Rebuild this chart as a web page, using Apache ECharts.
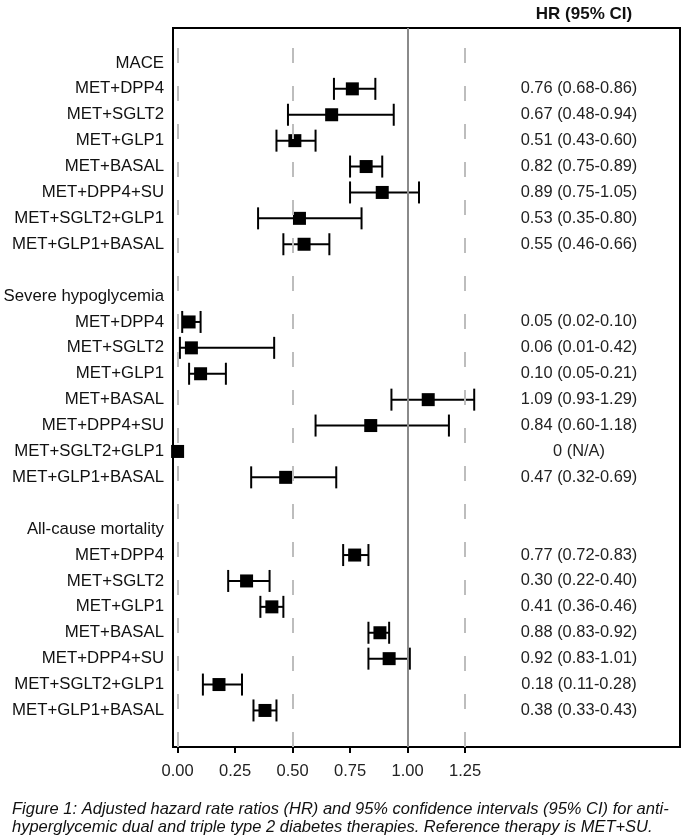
<!DOCTYPE html>
<html>
<head>
<meta charset="utf-8">
<script src="https://cdn.jsdelivr.net/npm/echarts@6/dist/echarts.min.js"></script>
<style>
html,body{margin:0;padding:0;background:#fff;}
#chart{width:685px;height:839px;}
</style>
</head>
<body>
<div id="chart"></div>
<script>
// ---- data ----
const groupNames = ['MACE', 'Severe hypoglycemia', 'All-cause mortality'];
const therapies = ['MET+DPP4', 'MET+SGLT2', 'MET+GLP1', 'MET+BASAL', 'MET+DPP4+SU', 'MET+SGLT2+GLP1', 'MET+GLP1+BASAL'];

const maceHR = [0.76, 0.67, 0.51, 0.82, 0.89, 0.53, 0.55];
const maceLo = [0.68, 0.48, 0.43, 0.75, 0.75, 0.35, 0.46];
const maceHi = [0.86, 0.94, 0.60, 0.89, 1.05, 0.80, 0.66];

const hypoHR = [0.05, 0.06, 0.10, 1.09, 0.84, 0, 0.47];
const hypoLo = [0.02, 0.01, 0.05, 0.93, 0.60, null, 0.32];
const hypoHi = [0.10, 0.42, 0.21, 1.29, 1.18, null, 0.69];

const mortHR = [0.77, 0.30, 0.41, 0.88, 0.92, 0.18, 0.38];
const mortLo = [0.72, 0.22, 0.36, 0.83, 0.83, 0.11, 0.33];
const mortHi = [0.83, 0.40, 0.46, 0.92, 1.01, 0.28, 0.43];

const xTicks = [0, 0.25, 0.5, 0.75, 1.0, 1.25];
const dashedRefs = [0, 0.5, 1.25];
const nullRef = 1.0;

const captionText = 'Figure 1: Adjusted hazard rate ratios (HR) and 95% confidence intervals (95% CI) for anti-\nhyperglycemic dual and triple type 2 diabetes therapies. Reference therapy is MET+SU.';

// ---- build rows ----
const groups = [[maceHR, maceLo, maceHi], [hypoHR, hypoLo, hypoHi], [mortHR, mortLo, mortHi]];
const rowLabels = [];
const rowValues = [];
const points = [];
const bars = [];
groups.forEach((g, gi) => {
  rowLabels.push(groupNames[gi]); rowValues.push('');
  therapies.forEach((t, ti) => {
    const idx = rowLabels.length;
    rowLabels.push(t);
    const hr = g[0][ti], lo = g[1][ti], hi = g[2][ti];
    if (lo == null) {
      rowValues.push(String(hr) + ' (N/A)');
    } else {
      rowValues.push(hr.toFixed(2) + ' (' + lo.toFixed(2) + '-' + hi.toFixed(2) + ')');
      bars.push([lo, hi, idx]);
    }
    points.push([hr, idx]);
  });
  if (gi < groups.length - 1) { rowLabels.push(''); rowValues.push(''); }
});
const cats = rowLabels.map((_, i) => String(i));

const FONT = '"Liberation Sans", Arial, sans-serif';
const XMIN = -0.02, XMAX = 2.185;

const chart = echarts.init(document.getElementById('chart'), null, {renderer: 'canvas'});
chart.setOption({
  animation: false,
  backgroundColor: '#fff',
  title: {
    text: 'HR (95% CI)',
    left: 579, top: 1, textAlign: 'center',
    textStyle: {fontFamily: FONT, fontSize: 17, fontWeight: 'bold', color: '#111'}
  },
  grid: [
    {left: 173, right: 5, top: 28, bottom: 92, show: true, borderColor: '#000', borderWidth: 2, backgroundColor: 'transparent'},
    {left: 173, right: 5, top: 50, height: 673.4}
  ],
  xAxis: [
    {
      gridIndex: 0, type: 'value', min: XMIN, max: XMAX,
      axisLine: {show: true, lineStyle: {color: '#000', width: 2}},
      axisTick: {show: true, length: 6, lineStyle: {color: '#000', width: 2}, customValues: xTicks},
      axisLabel: {show: true, customValues: xTicks, margin: 16, fontFamily: FONT, fontSize: 16.5, color: '#222',
        formatter: v => v.toFixed(2)},
      splitLine: {show: false}
    },
    {gridIndex: 1, type: 'value', min: XMIN, max: XMAX, show: false, splitLine: {show: false}}
  ],
  yAxis: [
    {gridIndex: 0, type: 'value', min: 0, max: 1, show: false, splitLine: {show: false}},
    {
      gridIndex: 1, type: 'category', data: cats, inverse: true, boundaryGap: true,
      axisLine: {show: false}, axisTick: {show: false}, splitLine: {show: false},
      axisLabel: {margin: 9, fontFamily: FONT, fontSize: 16.8, color: '#111', interval: 0,
        formatter: (v, i) => rowLabels[+v]}
    },
    {
      gridIndex: 1, type: 'category', data: cats, inverse: true, boundaryGap: true, position: 'right',
      axisLine: {show: false}, axisTick: {show: false}, splitLine: {show: false},
      axisLabel: {inside: true, margin: 101, align: 'center', fontFamily: FONT, fontSize: 16.4, color: '#222', interval: 0,
        formatter: (v, i) => rowValues[+v]}
    }
  ],
  series: [
    {
      type: 'line', xAxisIndex: 0, yAxisIndex: 0, data: [], silent: true,
      markLine: {
        silent: true, symbol: 'none', label: {show: false}, animation: false,
        data: dashedRefs.map(v => ({xAxis: v, lineStyle: {color: '#bdbdbd', width: 2, type: [15, 23]}}))
          .concat([{xAxis: nullRef, lineStyle: {color: '#8a8a8a', width: 2, type: 'solid'}}])
      }
    },
    {
      type: 'custom', xAxisIndex: 1, yAxisIndex: 1, data: bars, z: 3,
      renderItem: (params, api) => {
        const p1 = api.coord([api.value(0), api.value(2)]);
        const p2 = api.coord([api.value(1), api.value(2)]);
        const h = 11;
        const st = {stroke: '#000', lineWidth: 2};
        return {
          type: 'group',
          children: [
            {type: 'line', shape: {x1: p1[0], y1: p1[1], x2: p2[0], y2: p2[1]}, style: st},
            {type: 'line', shape: {x1: p1[0], y1: p1[1] - h, x2: p1[0], y2: p1[1] + h}, style: st},
            {type: 'line', shape: {x1: p2[0], y1: p2[1] - h, x2: p2[0], y2: p2[1] + h}, style: st}
          ]
        };
      }
    },
    {
      type: 'scatter', xAxisIndex: 1, yAxisIndex: 1, data: points, z: 4,
      symbol: 'rect', symbolSize: 13, itemStyle: {color: '#000', opacity: 1}
    }
  ],
  graphic: [
    {
      type: 'text', left: 12, top: 800,
      style: {text: captionText, fontFamily: FONT, fontSize: 16.5, fontStyle: 'italic', fill: '#111', lineHeight: 18}
    }
  ]
});
</script>
</body>
</html>
